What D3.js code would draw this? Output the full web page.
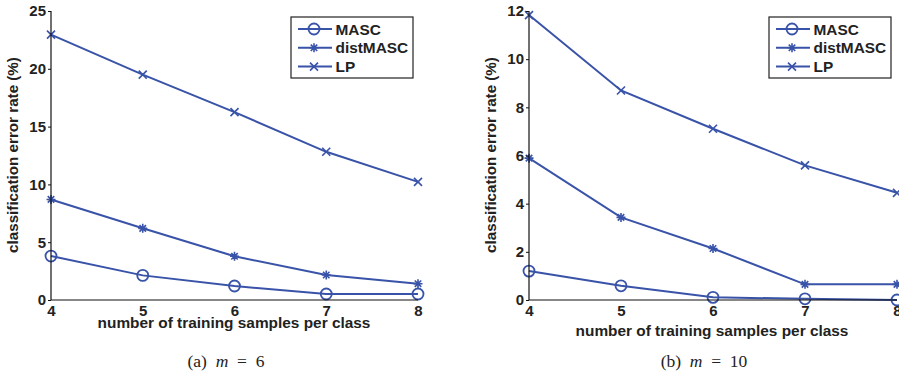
<!DOCTYPE html>
<html>
<head>
<meta charset="UTF-8">
<script src="https://d3js.org/d3.v7.min.js"></script>
<style>
  body { margin: 0; background: #fff; }
  svg text { font-family: "Liberation Sans", Arial, sans-serif; font-weight: bold; fill: #222; }
  .cap text, text.cap { font-family: "Liberation Serif", "DejaVu Serif", serif; font-weight: normal; }
</style>
</head>
<body>
<svg id="chart" width="899" height="375"></svg>
<script>
// training samples per class
const samples = [4, 5, 6, 7, 8];
const seriesNames = ["MASC", "distMASC", "LP"];

// (a) m = 6
const maskA = [3.8, 2.13, 1.21, 0.52, 0.52];
const distA = [8.7, 6.2, 3.78, 2.16, 1.41];
const lpA = [22.96, 19.5, 16.25, 12.82, 10.22];
const yTicksA = [0, 5, 10, 15, 20, 25];

// (b) m = 10
const maskB = [1.2, 0.59, 0.11, 0.05, 0.0];
const distB = [5.89, 3.43, 2.14, 0.65, 0.65];
const lpB = [11.83, 8.7, 7.11, 5.59, 4.45];
const yTicksB = [0, 2, 4, 6, 8, 10, 12];

const blue = "#3953a8";
const svg = d3.select("#chart");

function drawMarker(g, kind, x, y) {
  if (kind === "MASC") {
    g.append("circle").attr("cx", x).attr("cy", y).attr("r", 5.5)
      .attr("fill", "none").attr("stroke", blue).attr("stroke-width", 1.8);
  } else if (kind === "LP") {
    const s = 4;
    g.append("path").attr("d", `M${x-s},${y-s}L${x+s},${y+s}M${x-s},${y+s}L${x+s},${y-s}`)
      .attr("stroke", blue).attr("stroke-width", 1.6);
  } else {
    const s = 4.5, d = s * 0.72;
    g.append("path").attr("d",
      `M${x},${y-s}L${x},${y+s}M${x-s},${y}L${x+s},${y}M${x-d},${y-d}L${x+d},${y+d}M${x-d},${y+d}L${x+d},${y-d}`)
      .attr("stroke", blue).attr("stroke-width", 1.6);
  }
}

function panel(opt) {
  const g = svg.append("g");
  const x = d3.scaleLinear().domain([4, 8]).range([opt.x0, opt.x1]);
  const y = d3.scaleLinear().domain([0, opt.ymax]).range([300, 11]);

  // lines
  const line = d3.line().x((d, i) => x(samples[i])).y(d => y(d));
  opt.series.forEach((vals, k) => {
    g.append("path").datum(vals).attr("d", line)
      .attr("fill", "none").attr("stroke", blue).attr("stroke-width", 2);
    vals.forEach((v, i) => drawMarker(g, seriesNames[k], x(samples[i]), y(v)));
  });

  // axes
  const yAxis = d3.axisLeft(y).tickValues(opt.yTicks).tickSize(3).tickPadding(2);
  const ya = g.append("g").attr("transform", `translate(${opt.x0},0)`).call(yAxis);
  const xAxis = d3.axisBottom(x).tickValues(samples).tickSize(0).tickPadding(5).tickFormat(d3.format("d"));
  const xa = g.append("g").attr("transform", "translate(0,300)").call(xAxis);
  [ya, xa].forEach(a => {
    a.select(".domain").attr("stroke", "#111").attr("stroke-width", 1.2);
    a.selectAll(".tick line").attr("stroke", "#111");
    a.selectAll("text").style("font-size", "15px").style("font-family", "Liberation Sans, Arial, sans-serif")
      .style("font-weight", "bold").attr("fill", "#222");
  });
  ya.select(".domain").attr("d", `M0,300V11`);
  xa.select(".domain").attr("d", `M${opt.x0},0H${opt.x1}`);

  // axis titles
  g.append("text").attr("transform", `translate(${opt.yLabX},155) rotate(-90)`)
    .attr("text-anchor", "middle").style("font-size", "15.2px")
    .text("classification error rate (%)");
  g.append("text").attr("x", opt.xLabX).attr("y", opt.xLabY)
    .attr("text-anchor", "middle").style("font-size", "15.4px")
    .text("number of training samples per class");

  // caption
  const cap = g.append("text").attr("class", "cap").attr("x", opt.capX).attr("y", 367)
    .attr("text-anchor", "middle").style("font-size", "17.5px").attr("fill", "#222");
  cap.append("tspan").text(opt.capLetter + "\u2002");
  cap.append("tspan").style("font-style", "italic").text("m");
  cap.append("tspan").text("\u2002=\u2002" + opt.capVal);

  // legend
  const lg = g.append("g").attr("transform", `translate(${opt.legX},17)`);
  lg.append("rect").attr("width", opt.legW).attr("height", 61)
    .attr("fill", "#fff").attr("stroke", "#222").attr("stroke-width", 1.2);
  seriesNames.forEach((name, i) => {
    const cy = 12 + i * 18.8;
    lg.append("line").attr("x1", 7).attr("x2", 41).attr("y1", cy).attr("y2", cy)
      .attr("stroke", blue).attr("stroke-width", 2);
    drawMarker(lg, name, 23, cy);
    lg.append("text").attr("x", 44.5).attr("y", cy + 5.5).style("font-size", "15.4px").text(name);
  });
}

panel({ x0: 51, x1: 418, ymax: 25, yTicks: yTicksA, series: [maskA, distA, lpA],
  yLabX: 18, xLabX: 234, xLabY: 328, capX: 226, capLetter: "(a)", capVal: "6",
  legX: 291, legW: 122 });
panel({ x0: 529, x1: 897, ymax: 12, yTicks: yTicksB, series: [maskB, distB, lpB],
  yLabX: 496, xLabX: 712, xLabY: 336, capX: 704, capLetter: "(b)", capVal: "10",
  legX: 769, legW: 122 });
</script>
</body>
</html>
